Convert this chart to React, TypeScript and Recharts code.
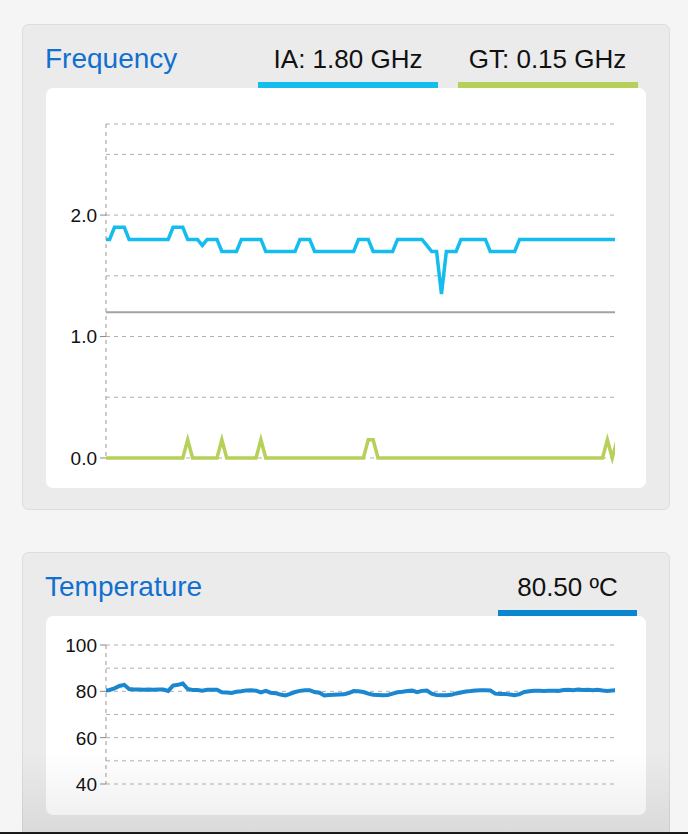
import React from 'react';
import { LineChart, Line, XAxis, YAxis, CartesianGrid, ReferenceLine } from 'recharts';

// sample index (time steps)
const sampleIndex: number[] = Array.from({ length: 106 }, (_, i) => i);

// IA frequency (GHz)
const iaGHz: number[] = [
  1.8, 1.8,
  1.9, 1.9, 1.9,
  1.8, 1.8, 1.8, 1.8, 1.8, 1.8, 1.8, 1.8, 1.8,
  1.9, 1.9, 1.9,
  1.8, 1.8, 1.8,
  1.75,
  1.8, 1.8, 1.8,
  1.7, 1.7, 1.7, 1.7,
  1.8, 1.8, 1.8, 1.8, 1.8,
  1.7, 1.7, 1.7, 1.7, 1.7, 1.7, 1.7,
  1.8, 1.8, 1.8,
  1.7, 1.7, 1.7, 1.7, 1.7, 1.7, 1.7, 1.7, 1.7,
  1.8, 1.8, 1.8,
  1.7, 1.7, 1.7, 1.7, 1.7,
  1.8, 1.8, 1.8, 1.8, 1.8, 1.8,
  1.75,
  1.7, 1.7,
  1.35,
  1.7, 1.7, 1.7,
  1.8, 1.8, 1.8, 1.8, 1.8, 1.8,
  1.7, 1.7, 1.7, 1.7, 1.7, 1.7,
  1.8, 1.8, 1.8, 1.8, 1.8, 1.8, 1.8, 1.8, 1.8, 1.8, 1.8, 1.8, 1.8, 1.8, 1.8, 1.8, 1.8, 1.8, 1.8, 1.8, 1.8,
];

// GT frequency (GHz)
const gtGHz: number[] = [
  0, 0, 0, 0, 0, 0, 0, 0, 0, 0, 0, 0, 0, 0, 0, 0, 0, 0.15, 0, 0,
  0, 0, 0, 0, 0.15, 0, 0, 0, 0, 0, 0, 0, 0.15, 0, 0, 0, 0, 0, 0, 0,
  0, 0, 0, 0, 0, 0, 0, 0, 0, 0, 0, 0, 0, 0, 0.15, 0.15, 0, 0, 0, 0,
  0, 0, 0, 0, 0, 0, 0, 0, 0, 0, 0, 0, 0, 0, 0, 0, 0, 0, 0, 0,
  0, 0, 0, 0, 0, 0, 0, 0, 0, 0, 0, 0, 0, 0, 0, 0, 0, 0, 0, 0,
  0, 0, 0, 0.15, 0, 0.15,
];

const baseGHz = 1.2;

// Temperature (ºC)
const tempC: number[] = [
  80.3, 80.6, 81.3, 82.3, 82.8, 81.0, 80.8, 80.8, 80.7, 80.8,
  80.7, 80.8, 80.8, 80.2, 82.5, 82.8, 83.4, 81.0, 80.6, 80.6,
  80.3, 80.7, 80.7, 80.7, 79.6, 79.5, 79.3, 79.8, 80.0, 80.4,
  80.5, 80.3, 79.5, 80.2, 79.4, 79.2, 78.6, 78.2, 78.9, 79.7,
  80.2, 80.5, 80.5, 79.7, 79.4, 78.2, 78.4, 78.5, 78.6, 78.7,
  79.2, 80.1, 80.0, 79.7, 79.0, 78.5, 78.4, 78.3, 78.4, 79.0,
  79.6, 79.8, 80.1, 80.3, 79.6, 80.2, 80.3, 79.0, 78.4, 78.3,
  78.3, 78.5, 79.1, 79.5, 79.9, 80.1, 80.4, 80.5, 80.5, 80.4,
  79.0, 78.9, 78.9, 78.6, 78.3, 78.8, 79.7, 80.0, 80.2, 80.2,
  80.1, 80.2, 80.3, 80.2, 80.6, 80.7, 80.5, 80.8, 80.6, 80.7,
  80.5, 80.7, 80.4, 80.2, 80.4, 80.5,
];

const freqTicks = [0, 0.5, 1, 1.5, 2, 2.5];
const tempTicks = [40, 50, 60, 70, 80, 90, 100];
const xWindow: [number, number] = [0.26, 104.56];

const freqData = sampleIndex.map((t, i) => ({ t, ia: iaGHz[i], gt: gtGHz[i] }));
const tempData = sampleIndex.map((t, i) => ({ t, temp: tempC[i] }));

const FONT = '"Liberation Sans", Arial, Helvetica, sans-serif';

const makeTick = (fmt: (v: number) => string | null) => (props: any) => {
  const { x, y, payload } = props;
  const label = fmt(payload.value);
  if (label === null) return <g />;
  return (
    <g>
      <line x1={x + 3} x2={x + 9} y1={y} y2={y} stroke="#888" strokeWidth={1} />
      <text x={x} y={y} dy="0.36em" textAnchor="end" fontSize={19} fill="#111" fontFamily={FONT}>
        {label}
      </text>
    </g>
  );
};

const FreqTick = makeTick((v) => (Math.abs(v % 1) < 1e-9 ? v.toFixed(1) : null));
const TempTick = makeTick((v) => (v % 20 === 0 ? String(v) : null));

export default function App() {
  return (
    <div style={{ position: 'absolute', left: 0, top: 0, width: 688, height: 834, overflow: 'hidden', background: '#f5f5f5', fontFamily: FONT }}>
      <svg width={688} height={834} style={{ position: 'absolute', left: 0, top: 0 }}>
        {/* Frequency panel */}
        <rect x={22.5} y={24.5} width={647} height={485} rx={6} fill="#ebebeb" stroke="#dcdcdc" />
        <rect x={46} y={88} width={600} height={400} rx={7} fill="#ffffff" />
        <text x={45} y={68} fontSize={28} fill="#1170cf" fontFamily={FONT}>Frequency</text>
        <text x={348} y={67.5} fontSize={26} fill="#111" textAnchor="middle" fontFamily={FONT}>IA: 1.80 GHz</text>
        <rect x={258} y={82} width={180} height={6} fill="#15bdee" />
        <text x={547.5} y={67.5} fontSize={26} fill="#111" textAnchor="middle" fontFamily={FONT}>GT: 0.15 GHz</text>
        <rect x={458} y={82} width={180} height={6} fill="#b5d159" />

        {/* Temperature panel */}
        <rect x={22.5} y={552.5} width={647} height={320} rx={6} fill="#ebebeb" stroke="#dcdcdc" />
        <rect x={46} y={616} width={600} height={199} rx={7} fill="#ffffff" />
        <text x={45} y={596} fontSize={28} fill="#1170cf" fontFamily={FONT}>Temperature</text>
        <text x={567.5} y={596} fontSize={26} fill="#111" textAnchor="middle" fontFamily={FONT}>80.50 ºC</text>
        <rect x={498} y={610} width={139} height={6} fill="#0a85cf" />
      </svg>

      <div style={{ position: 'absolute', left: 46, top: 88 }}>
        <LineChart width={600} height={400} data={freqData} margin={{ top: 36, right: 31, bottom: 30, left: 0 }}>
          <CartesianGrid horizontal vertical={false} stroke="#b0b0b0" strokeDasharray="4 4" />
          <XAxis dataKey="t" type="number" domain={xWindow} allowDataOverflow hide />
          <YAxis
            type="number"
            domain={[0, 2.75]}
            ticks={freqTicks}
            interval={0}
            width={60}
            tickSize={6}
            tickMargin={3}
            tickLine={false}
            axisLine={{ stroke: '#999', strokeDasharray: '4 4' }}
            tick={FreqTick}
          />
          <ReferenceLine y={baseGHz} stroke="#a3a3a3" strokeWidth={2} />
          <Line type="linear" dataKey="gt" stroke="#b5d159" strokeWidth={3.5} dot={false} isAnimationActive={false} />
          <Line type="linear" dataKey="ia" stroke="#15bdee" strokeWidth={3.5} dot={false} isAnimationActive={false} />
        </LineChart>
      </div>

      <div style={{ position: 'absolute', left: 46, top: 616 }}>
        <LineChart width={600} height={199} data={tempData} margin={{ top: 29, right: 31, bottom: 31, left: 0 }}>
          <CartesianGrid horizontal vertical={false} stroke="#b0b0b0" strokeDasharray="4 4" />
          <XAxis dataKey="t" type="number" domain={xWindow} allowDataOverflow hide />
          <YAxis
            type="number"
            domain={[40, 100]}
            ticks={tempTicks}
            interval={0}
            width={60}
            tickSize={6}
            tickMargin={3}
            tickLine={false}
            axisLine={{ stroke: '#999', strokeDasharray: '4 4' }}
            tick={TempTick}
          />
          <Line type="linear" dataKey="temp" stroke="#1b87d0" strokeWidth={4} dot={false} isAnimationActive={false} />
        </LineChart>
      </div>

      <div style={{ position: 'absolute', left: 22, top: 750, width: 648, height: 82, background: 'linear-gradient(rgba(0,0,0,0), rgba(0,0,0,0.07))', pointerEvents: 'none' }} />
      <div style={{ position: 'absolute', left: 0, top: 832, width: 688, height: 2, background: '#1a1a1a' }} />
    </div>
  );
}
